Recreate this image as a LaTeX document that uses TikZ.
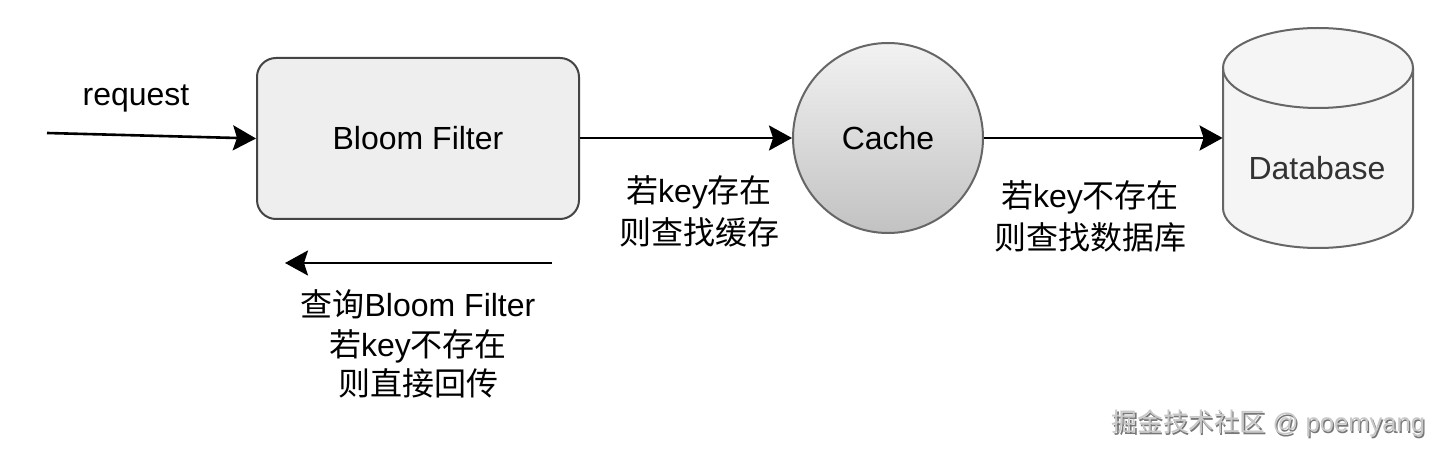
\documentclass[tikz,border=0pt]{standalone}
\usepackage{fontspec}
\setmainfont{Liberation Sans}
\newfontfamily\cjk{Noto Sans CJK SC}
\usetikzlibrary{arrows.meta}
\definecolor{boxfill}{HTML}{EEEEEE}
\definecolor{boxline}{HTML}{444444}
\definecolor{shapeline}{HTML}{666666}
\definecolor{dbfill}{HTML}{F5F5F5}
\definecolor{cachetop}{HTML}{F2F2F2}
\definecolor{cachebot}{HTML}{C2C2C2}
\definecolor{dbtext}{HTML}{333333}
\definecolor{wmark}{HTML}{C8C8C8}
\definecolor{wshadow}{HTML}{777777}
\tikzset{
  lbl/.style={font=\fontsize{16pt}{21pt}\selectfont, align=center, inner sep=0pt, text=black},
  lblb/.style={font=\fontsize{16pt}{19.8pt}\selectfont, align=center, inner sep=0pt, text=black},
  bfbox/.style={draw=boxline, line width=1pt, fill=boxfill, rounded corners=9.5pt,
    minimum width=161pt, minimum height=80.5pt, inner sep=0pt, font=\fontsize{16pt}{19pt}\selectfont},
  cachenode/.style={circle, draw=shapeline, line width=1pt, top color=cachetop, bottom color=cachebot,
    minimum size=95pt, inner sep=0pt, font=\fontsize{16pt}{19pt}\selectfont},
  dbframe/.style={minimum width=95pt, minimum height=110pt, inner sep=0pt},
  flow/.style={line width=1.3pt, -{Stealth[length=11.5pt, width=12.5pt, inset=2pt]}},
  wm/.style={font=\fontsize{12.8pt}{14pt}\selectfont, inner sep=0pt}
}
\begin{document}
\begin{tikzpicture}[x=0.5pt, y=-0.5pt]
\useasboundingbox (0,0) rectangle (1440,454);
\fill[white] (0,0) rectangle (1440,454);

% nodes
\node[bfbox] (bf) at (418,138.5) {Bloom Filter};
\node[cachenode] (cache) at (888,138) {Cache};
\node[dbframe] (db) at (1318,138) {};

% database cylinder
\fill[dbfill] (1223,68) -- (1223,208)
  arc[start angle=180, end angle=360, x radius=47.5pt, y radius=20pt]
  -- (1413,68)
  arc[start angle=0, end angle=180, x radius=47.5pt, y radius=20pt] -- cycle;
\draw[shapeline, line width=1pt] (1223,68) -- (1223,208)
  arc[start angle=180, end angle=360, x radius=47.5pt, y radius=20pt]
  -- (1413,68)
  arc[start angle=0, end angle=180, x radius=47.5pt, y radius=20pt];
\draw[shapeline, line width=1pt] (1223,68)
  arc[start angle=180, end angle=360, x radius=47.5pt, y radius=20pt];
\node[font=\fontsize{16pt}{19pt}\selectfont, text=dbtext, inner sep=0pt] (dblabel) at (1317,168) {Database};

% free ends
\coordinate (reqstart) at (47,133);
\coordinate (retstart) at (552,263);
\coordinate (retend) at (285,263);

% connectors
\draw[flow] (reqstart) -- (bf.west);
\draw[flow] (bf.east |- 0,138) -- (cache.west);
\draw[flow] (cache.east) -- (db.west);
\draw[flow] (retstart) -- (retend);

% labels
\node[lbl] (req) at (136,98) {request};
\node[lbl] (l1) at (699,211) {{\cjk 若}key{\cjk 存在}\\{\cjk 则查找缓存}};
\node[lbl] (l2) at (1090,216) {{\cjk 若}key{\cjk 不存在}\\{\cjk 则查找数据库}};
\node[lblb] (l3) at (418,344) {{\cjk 查询}Bloom Filter\\{\cjk 若}key{\cjk 不存在}\\{\cjk 则直接回传}};

% watermark
\node[wm, text=wshadow] at (1269.8,424.8) {{\cjk 掘金技术社区} @ poemyang};
\node[wm, text=wmark] (wmk) at (1268.5,423.5) {{\cjk 掘金技术社区} @ poemyang};
\end{tikzpicture}
\end{document}
